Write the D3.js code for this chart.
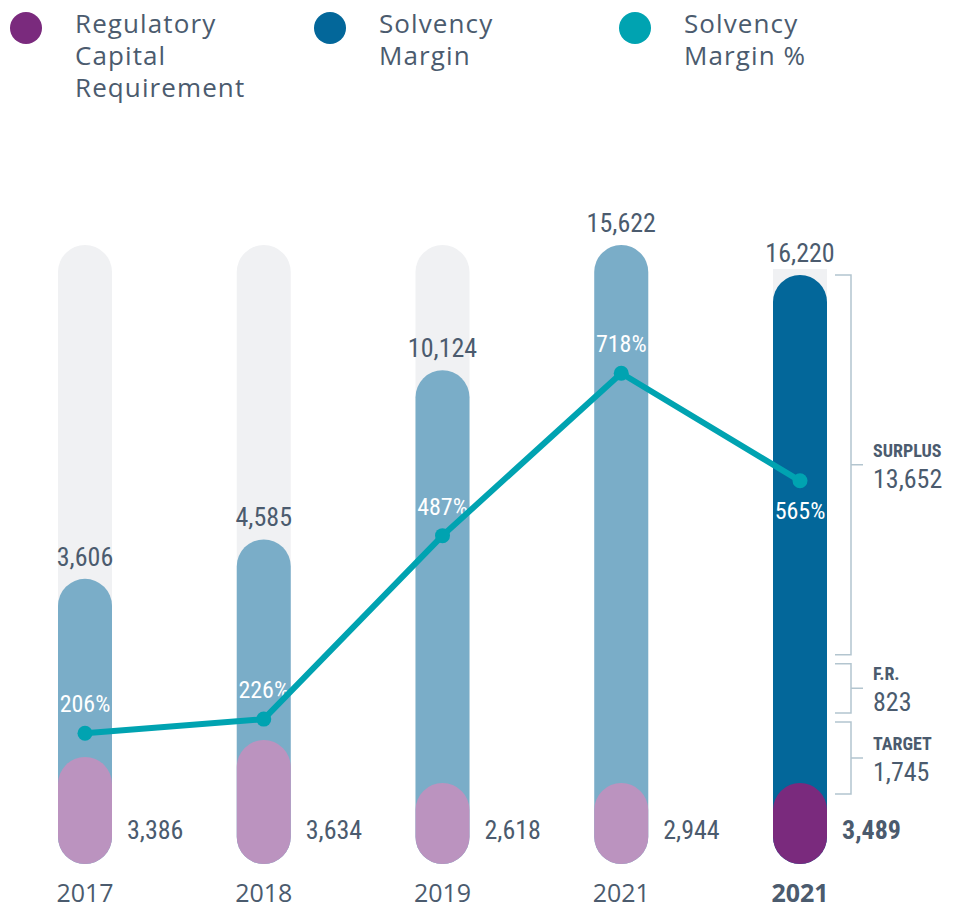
<!DOCTYPE html>
<html>
<head>
<meta charset="utf-8">
<script src="https://cdn.jsdelivr.net/npm/d3@7"></script>
<style>
  body { margin: 0; background: #ffffff; }
  svg { display: block; }
  .num { font-family: 'Liberation Sans Narrow', 'Arial Narrow', 'Roboto Condensed', 'DejaVu Sans Condensed', sans-serif; }
  .geo { font-family: 'Open Sans', 'Noto Sans', sans-serif; }
</style>
</head>
<body>
<svg id="chart" width="959" height="910"></svg>
<script>
// ---- data ----
const years = ["2017", "2018", "2019", "2021", "2021"];
const solvencyMargin = [3606, 4585, 10124, 15622, 16220];
const capitalRequirement = [3386, 3634, 2618, 2944, 3489];
const solvencyRatio = [206, 226, 487, 718, 565];
// breakdown of the latest solvency margin, bottom to top
const breakdownLabels = ["TARGET", "F.R.", "SURPLUS"];
const breakdownValues = [1745, 823, 13652];
const legendLabels = [
  ["Regulatory", "Capital", "Requirement"],
  ["Solvency", "Margin"],
  ["Solvency", "Margin %"]
];

// ---- styles ----
const C = {
  text: "#4b5b6e",
  track: "#f0f1f3",
  barLight: "#7aadc8",
  barDark: "#03679a",
  reqLight: "#bb93bf",
  reqDark: "#7a2a7d",
  line: "#00a3b1",
  bracket: "#b3c5cf"
};
const legendColors = [C.reqDark, C.barDark, C.line];

const svg = d3.select("#chart");
const detail = years.length - 1;      // last column shows the breakdown
const base = 864;                     // bottom of every column
const barW = 54;
const pillMin = 81;                   // smallest requirement pill

// ---- scales ----
const x = d3.scalePoint().domain(d3.range(years.length)).range([85, 800]);
const yMargin = d3.scaleSqrt().domain([21, 15622]).range([base, 245]);
const yDetail = d3.scalePow().exponent(0.28).domain([977, 16220]).range([794, 275]).clamp(true);
const reqHeight = d3.scaleLinear().domain([1824, 3634]).range([0, 124]);
const yRatio = d3.scaleLinear().domain([0, 1000]).range([878, 175]);

const histMax = d3.max(solvencyMargin.slice(0, detail));
const barTop = i => i === detail ? yDetail(solvencyMargin[i]) : yMargin(solvencyMargin[i]);
const reqTop = i => base - (i === detail ? pillMin : Math.max(pillMin, reqHeight(capitalRequirement[i])));

// ---- legend ----
const leg = svg.append("g");
const legX = [26, 330, 635];
legendLabels.forEach((lines, k) => {
  leg.append("circle").attr("cx", legX[k]).attr("cy", 28).attr("r", 16).attr("fill", legendColors[k]);
  lines.forEach((ln, j) => {
    leg.append("text").attr("class", "geo")
      .attr("x", legX[k] + 49).attr("y", 33 + j * 32)
      .attr("font-size", 26).attr("letter-spacing", 1.1).attr("fill", C.text)
      .text(ln);
  });
});

// ---- column tracks ----
const cols = svg.append("g");
years.forEach((yr, i) => {
  if (i === detail) {
    // short backdrop behind the total label, tucked under the bar's rounded top
    const top = yDetail(solvencyMargin[i]) - 6;
    cols.append("rect").attr("x", x(i) - barW / 2).attr("y", top)
      .attr("width", barW).attr("height", barW / 2 + 6).attr("fill", C.track);
  } else {
    const top = yMargin(histMax);
    cols.append("rect").attr("x", x(i) - barW / 2).attr("y", top)
      .attr("width", barW).attr("height", base - top)
      .attr("rx", barW / 2).attr("fill", C.track);
  }
});

// ---- solvency margin bars ----
cols.selectAll(".margin").data(solvencyMargin).join("rect")
  .attr("class", "margin")
  .attr("x", (d, i) => x(i) - barW / 2)
  .attr("y", (d, i) => barTop(i))
  .attr("width", barW)
  .attr("height", (d, i) => base - barTop(i))
  .attr("rx", barW / 2)
  .attr("fill", (d, i) => i === detail ? C.barDark : C.barLight);

// ---- capital requirement pills ----
cols.selectAll(".req").data(capitalRequirement).join("rect")
  .attr("class", "req")
  .attr("x", (d, i) => x(i) - barW / 2)
  .attr("y", (d, i) => reqTop(i))
  .attr("width", barW)
  .attr("height", (d, i) => base - reqTop(i))
  .attr("rx", barW / 2)
  .attr("fill", (d, i) => i === detail ? C.reqDark : C.reqLight);

// ---- value labels ----
svg.selectAll(".mlab").data(solvencyMargin).join("text")
  .attr("class", "num mlab")
  .attr("x", (d, i) => x(i))
  .attr("y", (d, i) => barTop(i) - 13)
  .attr("text-anchor", "middle")
  .attr("font-size", 26)
  .attr("fill", C.text)
  .text(d => d3.format(",")(d));

svg.selectAll(".rlab").data(capitalRequirement).join("text")
  .attr("class", "num rlab")
  .attr("x", (d, i) => x(i) + barW / 2 + 15)
  .attr("y", base - 25)
  .attr("font-size", 26)
  .attr("font-weight", (d, i) => i === detail ? 700 : 400)
  .attr("fill", C.text)
  .text(d => d3.format(",")(d));

svg.selectAll(".plab").data(solvencyRatio).join("text")
  .attr("class", "num plab")
  .attr("x", (d, i) => x(i))
  .attr("y", (d, i) => i === detail ? yRatio(d) + 38 : yRatio(d) - 21)
  .attr("text-anchor", "middle")
  .attr("font-size", 24)
  .attr("fill", "#ffffff")
  .text(d => d + "%");

// ---- solvency ratio line ----
const line = d3.line().x((d, i) => x(i)).y(d => yRatio(d));
svg.append("path").datum(solvencyRatio)
  .attr("d", line)
  .attr("fill", "none")
  .attr("stroke", C.line)
  .attr("stroke-width", 6)
  .attr("stroke-linejoin", "round");
svg.selectAll(".dot").data(solvencyRatio).join("circle")
  .attr("class", "dot")
  .attr("cx", (d, i) => x(i))
  .attr("cy", d => yRatio(d))
  .attr("r", 7.5)
  .attr("fill", C.line);

// ---- breakdown brackets ----
const cum = [0];
breakdownValues.forEach(v => cum.push(cum[cum.length - 1] + v));
const gap = 4.5;
const bx0 = x(detail) + barW / 2 + 8, bx1 = bx0 + 16, bx2 = bx1 + 12;
const br = svg.append("g");
breakdownValues.forEach((v, k) => {
  const y0 = yDetail(cum[k]) - (k > 0 ? gap : 0);
  const y1 = yDetail(cum[k + 1]) + (k < breakdownValues.length - 1 ? gap : 0);
  const mid = (y0 + y1) / 2;
  br.append("path")
    .attr("d", `M${bx0},${y1}H${bx1}V${y0}H${bx0}M${bx1},${mid}H${bx2}`)
    .attr("fill", "none").attr("stroke", C.bracket).attr("stroke-width", 1.5);
  br.append("text").attr("class", "num")
    .attr("x", bx2 + 10).attr("y", mid - 8)
    .attr("font-size", 18).attr("font-weight", 700).attr("fill", C.text)
    .text(breakdownLabels[k]);
  br.append("text").attr("class", "num")
    .attr("x", bx2 + 10).attr("y", mid + 23)
    .attr("font-size", 26).attr("fill", C.text)
    .text(d3.format(",")(v));
});

// ---- year axis labels ----
svg.selectAll(".year").data(years).join("text")
  .attr("class", "geo year")
  .attr("x", (d, i) => x(i))
  .attr("y", 902)
  .attr("text-anchor", "middle")
  .attr("font-size", 25)
  .attr("font-weight", (d, i) => i === detail ? 700 : 400)
  .attr("fill", C.text)
  .text(d => d);
</script>
</body>
</html>
